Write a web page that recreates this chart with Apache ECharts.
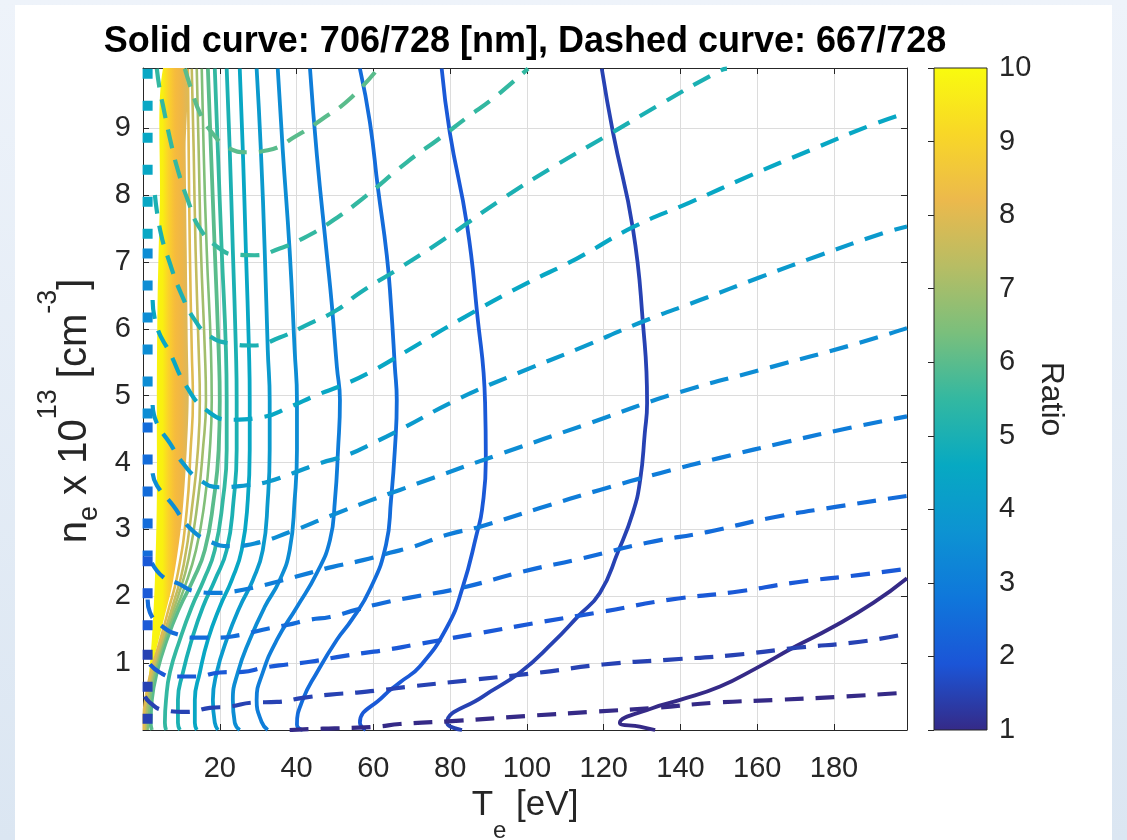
<!DOCTYPE html>
<html>
<head>
<meta charset="utf-8">
<title>Line-ratio contours</title>
<script src="https://cdn.jsdelivr.net/npm/echarts@6/dist/echarts.min.js"></script>
<style>
  html, body { margin: 0; padding: 0; }
  body { width: 1127px; height: 840px; overflow: hidden; position: relative;
         background: linear-gradient(#eef3fa, #dbe6f2); }
  #sheet { position: absolute; left: 15px; top: 5px; width: 1097px; height: 835px; background: #ffffff; }
  #chart { position: absolute; left: 0; top: 0; width: 1127px; height: 840px; }
</style>
</head>
<body>
<div id="sheet"></div>
<div id="chart"></div>
<script>
// ---- axis extents ----
const teRange = [0, 199];      // Te [eV]
const neRange = [0, 9.9];      // ne x 1e13 [cm^-3]
const ratioRange = [1, 10];    // colour scale

// ---- solid contours: 706/728 ratio, points are [Te, ne] ----
const solidLevels = [1.0, 1.5, 2.0, 2.5, 3.0, 3.5, 4.0, 4.5, 5.0, 5.5, 6.0, 6.5, 7.0, 7.5, 8.0];
const solid1 = [[133.4,0],[129.4,0.05],[124.2,0.11],[132.8,0.33],[139.9,0.45],[150.3,0.65],[159.9,0.93],[169.3,1.23],[179.7,1.54],[190.2,1.9],[199,2.27]];
const solid2 = [[83.1,0],[79.2,0.11],[88.5,0.5],[98.2,0.86],[106.8,1.31],[113.3,1.7],[119,2.05],[123.7,2.66],[127.6,3.25],[129.5,3.74],[130.7,4.44],[131.3,4.89],[130.2,6.1],[127.6,7.5],[122.4,8.94],[119.5,9.89]];
const solid3 = [[58,0],[56.5,0.11],[62.5,0.5],[66.9,0.71],[72.1,0.95],[79.2,1.54],[83.3,2.14],[87,2.95],[88.3,3.29],[89.3,4.04],[89.1,4.9],[87,6.25],[84.4,7.55],[79.9,8.94],[77.8,9.89]];
const solid4 = [[41.6,0],[40.1,0.08],[41.6,0.45],[45.3,0.86],[50.5,1.35],[54.4,1.65],[59.1,2.1],[63.3,2.77],[64.6,3.44],[65.6,4.19],[66.1,4.93],[65.6,5.43],[64.6,6.35],[63.5,7.1],[61.2,8.1],[59.1,9.09],[56.5,9.89]];
const solid5 = [[32.5,0],[30.9,0.12],[29.6,0.45],[31.2,0.86],[34.9,1.35],[40.1,1.84],[45.3,2.35],[48.7,2.84],[50,3.44],[50.8,4.19],[51.3,4.93],[50.5,5.43],[49.2,6.35],[47.9,7.1],[45.3,8.59],[43.5,9.89]];
const solid6 = [[25.2,0],[23.9,0.11],[23.4,0.45],[24.7,0.86],[27.8,1.35],[31.7,1.84],[35.6,2.24],[38.2,2.69],[39.5,3.44],[40.1,4.19],[40.1,4.93],[39.5,5.68],[38.2,7.17],[36.4,8.67],[35.1,9.89]];
const solid7 = [[19.5,0],[18.7,0.11],[18.2,0.45],[19.2,0.86],[21.8,1.35],[25.2,1.84],[28.6,2.24],[31.2,2.69],[32.5,3.44],[33,4.19],[33,4.93],[32.5,5.68],[31.7,7.17],[30.7,8.67],[29.6,9.89]];
const solid8 = [[14,0],[13.5,0.11],[13.5,0.45],[14.8,0.86],[16.9,1.35],[20,1.84],[23.1,2.24],[25.7,2.69],[27.3,3.44],[27.8,4.19],[27.8,4.93],[27.6,5.68],[26.8,7.17],[26,8.67],[25.2,9.89]];
const solid9 = [[9.6,0],[9.1,0.11],[9.1,0.45],[10.4,0.86],[12.7,1.35],[15.6,1.84],[18.7,2.24],[21.8,2.69],[23.6,3.44],[24.4,4.19],[24.4,4.93],[24.2,5.68],[23.4,7.17],[22.6,8.67],[21.8,9.89]];
const solid10 = [[6,0],[5.7,0.11],[6,0.45],[7,0.86],[9.6,1.35],[12.7,1.84],[15.8,2.24],[18.7,2.69],[20.8,3.44],[21.8,4.19],[21.8,4.93],[21.6,5.68],[20.5,7.17],[19.5,8.67],[18.7,9.89]];
const solid11 = [[2.3,0],[2,0.11],[2.3,0.45],[3.6,0.86],[6.2,1.35],[9.6,1.84],[13,2.24],[16.1,2.69],[18.4,3.44],[19.7,4.19],[20,4.93],[19.7,5.68],[18.7,7.17],[17.7,8.67],[16.9,9.89]];
const solid12 = [[1.2,0],[1.5,0.3],[2.5,0.71],[4.6,1.17],[7.5,1.65],[10.6,2.1],[13.8,2.69],[16.1,3.44],[17.4,4.19],[17.9,4.93],[17.7,5.68],[16.6,7.17],[15.8,8.67],[15.3,9.89]];
const solid13 = [[0.7,0],[1,0.27],[1.8,0.63],[3.6,1.05],[6.2,1.53],[9.1,1.99],[11.9,2.57],[14.3,3.44],[15.6,4.19],[16.4,4.93],[16.1,5.68],[15.1,7.17],[14.5,8.67],[14,9.89]];
const solid14 = [[0.5,0],[0.5,0.23],[1.2,0.56],[2.8,0.95],[5.2,1.39],[7.8,1.87],[10.6,2.47],[13,3.44],[14.3,4.19],[14.8,4.93],[14.5,5.68],[13.7,7.17],[13.2,8.67],[12.7,9.89]];
const solid15 = [[0.2,0],[0.2,0.2],[0.7,0.48],[2,0.86],[4.1,1.27],[6.4,1.75],[9.1,2.35],[11.4,3.29],[12.4,4.19],[13,4.93],[12.7,5.68],[12.2,7.17],[11.9,8.67],[11.7,9.89]];

// densely packed high-ratio contours (8.5 .. 10) near Te -> 0
const bandHigh = [[5.2,9.89],[4.4,7.92],[3.8,6.43],[3.6,4.93],[3.6,3.44],[3.1,2.24],[2.3,1.35],[1.2,0.6],[0.5,0.23],[0.1,0]];
const bandLow = [[0.1,0],[0.5,0.42],[1.5,0.75],[3.3,1.17],[5.4,1.65],[7.8,2.22],[10.1,3.14],[11.4,4.19],[11.9,4.93],[11.7,5.68],[11.4,7.17],[11.1,8.67],[10.9,9.89]];

// ---- dashed contours: 667/728 ratio ----
const dashLevels = [6.0, 5.5, 5.0, 4.5, 4.0, 3.5, 3.0, 2.5, 2.0, 1.5, 1.0];
const dash1 = [[10.9,9.89],[12.7,9.56],[14.8,9.23],[17.9,8.94],[22.1,8.71],[27.3,8.64],[32.5,8.67],[40.1,8.89],[46.8,9.14],[53.9,9.44],[61.2,9.89]];
const dash2 = [[3.6,9.89],[4.4,9.56],[5.2,9.34],[7,8.85],[9.1,8.37],[11.7,7.92],[14.8,7.5],[19.5,7.22],[23.9,7.11],[29.1,7.1],[35.6,7.2],[41.6,7.35],[48.7,7.59],[57.3,7.95],[68.7,8.49],[77.3,8.85],[84.4,9.16],[91.1,9.44],[100.3,9.89]];
const dash3 = [[3.1,8],[4.6,7.44],[7,6.98],[9.9,6.53],[13.5,6.13],[17.4,5.89],[22.6,5.78],[28.6,5.75],[35.6,5.87],[43.5,6.08],[50.5,6.28],[56.5,6.54],[66.9,6.91],[79.2,7.37],[93,7.92],[106.8,8.42],[120.9,8.89],[135.4,9.38],[150.3,9.86],[152.1,9.89]];
const dash4 = [[2.5,6.43],[3.6,6.03],[7,5.64],[11.4,5.13],[16.6,4.78],[22.6,4.64],[31.2,4.68],[38.2,4.83],[45.3,5.01],[52.1,5.16],[59.1,5.35],[68.2,5.65],[83.3,6.16],[98.9,6.65],[113,7.05],[127.6,7.52],[142.5,7.89],[158.1,8.29],[173.8,8.67],[189.4,9.04],[199,9.23]];
const dash5 = [[2.5,4.86],[3.6,4.59],[7,4.29],[10.4,3.99],[14.8,3.74],[20,3.63],[27,3.66],[32.3,3.71],[39,3.84],[46.1,3.99],[53.1,4.11],[59.9,4.29],[66.9,4.49],[82.5,4.96],[98.2,5.35],[113.8,5.71],[129.4,6.09],[145.1,6.43],[160.7,6.77],[176.3,7.1],[192.8,7.43],[199,7.53]];
const dash6 = [[2.5,3.84],[3.6,3.66],[7.8,3.36],[12.2,3.02],[17.4,2.82],[22.6,2.75],[29.1,2.79],[38.2,2.96],[48.7,3.2],[59.1,3.43],[66.9,3.59],[75.5,3.77],[92.2,4.11],[116.4,4.59],[139.1,5.04],[162.5,5.41],[186,5.78],[199,6.01]];
const dash7 = [[2.3,2.5],[5.2,2.29],[8.8,2.2],[14,2.07],[19.2,2.05],[23.4,2.07],[29.6,2.14],[36.4,2.24],[43.5,2.35],[49.4,2.44],[57.3,2.54],[64.3,2.65],[70.3,2.74],[79.2,2.92],[87.8,3.04],[103.4,3.32],[119,3.59],[134.6,3.84],[150.3,4.07],[167.8,4.31],[184.2,4.52],[199,4.69]];
const dash8 = [[1.2,1.95],[1.8,1.76],[5.2,1.54],[9.6,1.42],[14,1.38],[19.2,1.38],[25.2,1.42],[31.2,1.5],[37.5,1.57],[43.5,1.65],[48.7,1.69],[55.7,1.8],[62.5,1.9],[69.5,1.98],[83.3,2.13],[99,2.37],[114.6,2.57],[131.3,2.8],[146.9,2.96],[163.3,3.17],[180.8,3.34],[199,3.5]];
const dash9 = [[1.8,0.98],[4.4,0.86],[7.8,0.8],[14,0.8],[20,0.86],[26,0.87],[31.2,0.93],[37.5,0.98],[43.5,1.02],[50.5,1.09],[57.3,1.15],[63.5,1.2],[70.3,1.27],[87.8,1.45],[104.2,1.62],[119.8,1.77],[137.3,1.95],[153.7,2.06],[170.4,2.21],[186.8,2.32],[199,2.41]];
const dash10 = [[0.5,0.5],[1.8,0.41],[5.2,0.3],[11.4,0.27],[17.4,0.33],[22.6,0.35],[28.6,0.41],[34.9,0.42],[41.6,0.48],[48.7,0.53],[55.7,0.56],[62.5,0.6],[69.5,0.65],[85.9,0.75],[103.4,0.86],[119.8,0.98],[136.5,1.05],[153.7,1.12],[170.4,1.23],[186.8,1.32],[199,1.44]];
const dash11 = [[38.2,0],[46.8,0.02],[53.1,0.03],[60.9,0.05],[66.9,0.09],[82.5,0.14],[100,0.21],[116.4,0.27],[132.8,0.33],[149.5,0.41],[165.1,0.45],[182.3,0.5],[199,0.56]];

// dashed contours hugging the Te -> 0 edge
const edgeLevels = [4.5, 3.5, 2.5, 2.0, 1.5];
const edge1 = [[1.2,9.89],[1.2,7.2]];
const edge2 = [[1.2,7.2],[1.2,4.6]];
const edge3 = [[1.2,4.6],[1.2,2.6]];
const edge4 = [[1.2,2.6],[1.2,1.2]];
const edge5 = [[1.2,1.2],[1.2,0]];

const solidCurves = [solid1, solid2, solid3, solid4, solid5, solid6, solid7, solid8, solid9, solid10, solid11, solid12, solid13, solid14, solid15];
const dashCurves = [dash1, dash2, dash3, dash4, dash5, dash6, dash7, dash8, dash9, dash10, dash11];
const edgeCurves = [edge1, edge2, edge3, edge4, edge5];

// ---- parula colour scale ----
const parulaStops = ['#352a87','#1b55d7','#0f77db','#0d93d2','#07a9c2','#33b8a1','#7abf7c','#b7bd64','#ecb94c','#f8d727','#f9fb0e'];
function hexToRgb(h) {
  return [parseInt(h.slice(1, 3), 16), parseInt(h.slice(3, 5), 16), parseInt(h.slice(5, 7), 16)];
}
function parula(level) {
  const t = Math.min(1, Math.max(0, (level - ratioRange[0]) / (ratioRange[1] - ratioRange[0])));
  const pos = t * (parulaStops.length - 1);
  const i = Math.min(parulaStops.length - 2, Math.floor(pos));
  const f = pos - i;
  const a = hexToRgb(parulaStops[i]);
  const b = hexToRgb(parulaStops[i + 1]);
  return 'rgb(' + [0, 1, 2].map(k => Math.round(a[k] + (b[k] - a[k]) * f)).join(',') + ')';
}

const FONT = 'Liberation Sans, Arial, Helvetica, sans-serif';
const INK = '#262626';

function contourLine(points, level, dashed, width, z) {
  return {
    type: 'line', xAxisIndex: 0, yAxisIndex: 0, data: points,
    showSymbol: false, symbol: 'none', smooth: 0.5, silent: true, clip: true, z: z,
    lineStyle: { color: parula(level), width: width, type: dashed, cap: 'butt', join: 'round' }
  };
}

const series = [];

// filled band of tightly packed high-ratio contours
series.push({
  type: 'custom', xAxisIndex: 0, yAxisIndex: 0, silent: true, clip: true, z: 2,
  data: bandHigh.concat(bandLow),
  renderItem: function (params, api) {
    if (params.dataIndex !== 0) return null;
    const pts = bandHigh.concat(bandLow).map(p => api.coord(p));
    return {
      type: 'polygon',
      shape: { points: pts, smooth: 0.3 },
      style: {
        fill: new echarts.graphic.LinearGradient(0, 0, 1, 0, [
          { offset: 0.0, color: '#f9fb0e' },
          { offset: 0.42, color: '#f9f010' },
          { offset: 0.55, color: '#fbd22a' },
          { offset: 0.7, color: '#f6bb3d' },
          { offset: 0.85, color: '#eeb548' },
          { offset: 1.0, color: '#d8b95e' }
        ]),
        stroke: null
      }
    };
  }
});

solidCurves.forEach(function (pts, k) {
  const lvl = solidLevels[k];
  series.push(contourLine(pts, lvl, 'solid', lvl > 6.2 ? 2.6 : 3.8, 3));
});
dashCurves.forEach(function (pts, k) {
  series.push(contourLine(pts, dashLevels[k], [19, 12], 4.2, 4));
});
edgeCurves.forEach(function (pts, k) {
  const s = contourLine(pts, edgeLevels[k], [10, 22], 10, 4);
  s.smooth = false;
  series.push(s);
});

// colour bar
series.push({
  type: 'custom', xAxisIndex: 2, yAxisIndex: 2, silent: true, z: 2,
  data: [[0, ratioRange[0]], [1, ratioRange[1]]],
  renderItem: function (params, api) {
    if (params.dataIndex !== 0) return null;
    const p0 = api.coord([0, ratioRange[1]]);
    const p1 = api.coord([1, ratioRange[0]]);
    return {
      type: 'rect',
      shape: { x: p0[0], y: p0[1], width: p1[0] - p0[0], height: p1[1] - p0[1] },
      style: {
        fill: new echarts.graphic.LinearGradient(0, 1, 0, 0,
          parulaStops.map((c, i) => ({ offset: i / (parulaStops.length - 1), color: c }))),
        stroke: INK, lineWidth: 1
      }
    };
  }
});

const tickLabel = { fontFamily: FONT, fontSize: 29, color: INK };

const chart = echarts.init(document.getElementById('chart'), null, { renderer: 'canvas' });
chart.setOption({
  animation: false,
  backgroundColor: 'transparent',
  graphic: [{
    type: 'text', x: 525, y: 42, z: 10,
    style: {
      text: 'Solid curve: 706/728 [nm], Dashed curve: 667/728',
      fontFamily: FONT, fontSize: 36, fontWeight: 'bold', fill: '#000000',
      textAlign: 'center', textVerticalAlign: 'middle'
    }
  }],
  grid: [
    { left: 143, top: 68, width: 764, height: 662, containLabel: false, outerBoundsMode: 'none' },
    { left: 934, top: 68, width: 53, height: 662, containLabel: false, outerBoundsMode: 'none' }
  ],
  xAxis: [
    {
      gridIndex: 0, type: 'value', min: teRange[0], max: teRange[1], interval: 20, position: 'bottom',
      axisLine: { show: true, onZero: false, lineStyle: { color: INK, width: 1 } },
      axisTick: { show: true, inside: true, length: 6, lineStyle: { color: INK } },
      axisLabel: Object.assign({ margin: 24, showMinLabel: false, showMaxLabel: false }, tickLabel),
      splitLine: { show: true, lineStyle: { color: '#dcdcdc', width: 1 } },
      name: '{m|T}{sb|e}{m| [eV]}', nameLocation: 'middle', nameGap: 26,
      nameTextStyle: {
        fontFamily: FONT, fontSize: 35, color: INK,
        rich: {
          m: { fontFamily: FONT, fontSize: 35, color: INK, lineHeight: 80 },
          sb: { fontFamily: FONT, fontSize: 24, color: INK, verticalAlign: 'bottom', padding: [0, 0, 2, 0] }
        }
      }
    },
    {
      gridIndex: 0, type: 'value', min: teRange[0], max: teRange[1], interval: 20, position: 'top',
      axisLine: { show: true, onZero: false, lineStyle: { color: INK, width: 1 } },
      axisTick: { show: true, inside: true, length: 6, lineStyle: { color: INK } },
      axisLabel: { show: false }, splitLine: { show: false }
    },
    { gridIndex: 1, type: 'value', min: 0, max: 1, show: false }
  ],
  yAxis: [
    {
      gridIndex: 0, type: 'value', min: neRange[0], max: neRange[1], interval: 1, position: 'left',
      axisLine: { show: true, onZero: false, lineStyle: { color: INK, width: 1 } },
      axisTick: { show: true, inside: true, length: 6, lineStyle: { color: INK } },
      axisLabel: Object.assign({ margin: 12, showMinLabel: false, showMaxLabel: false }, tickLabel),
      splitLine: { show: true, lineStyle: { color: '#dcdcdc', width: 1 } },
      name: '{m|n}{sb|e}{m| x 10}{sp|13}{m| [cm}{sp|-3}{m|]}', nameLocation: 'middle', nameGap: 28,
      nameTextStyle: {
        fontFamily: FONT, fontSize: 40, color: INK, padding: [0, 24, 0, 0],
        rich: {
          m: { fontFamily: FONT, fontSize: 40, color: INK, lineHeight: 80 },
          sb: { fontFamily: FONT, fontSize: 27, color: INK, verticalAlign: 'bottom', padding: [0, 0, 12, 0] },
          sp: { fontFamily: FONT, fontSize: 27, color: INK, verticalAlign: 'top' }
        }
      }
    },
    {
      gridIndex: 0, type: 'value', min: neRange[0], max: neRange[1], interval: 1, position: 'right',
      axisLine: { show: true, onZero: false, lineStyle: { color: INK, width: 1 } },
      axisTick: { show: true, inside: true, length: 6, lineStyle: { color: INK } },
      axisLabel: { show: false }, splitLine: { show: false }
    },
    {
      gridIndex: 1, type: 'value', min: ratioRange[0], max: ratioRange[1], interval: 1, position: 'right',
      axisLine: { show: false },
      axisTick: { show: true, inside: true, length: 6, lineStyle: { color: INK } },
      axisLabel: Object.assign({ margin: 12 }, tickLabel),
      splitLine: { show: false },
      name: 'Ratio', nameLocation: 'middle', nameGap: 37, nameRotate: -90,
      nameTextStyle: { fontFamily: FONT, fontSize: 32, color: INK }
    }
  ],
  series: series
});
</script>
</body>
</html>
